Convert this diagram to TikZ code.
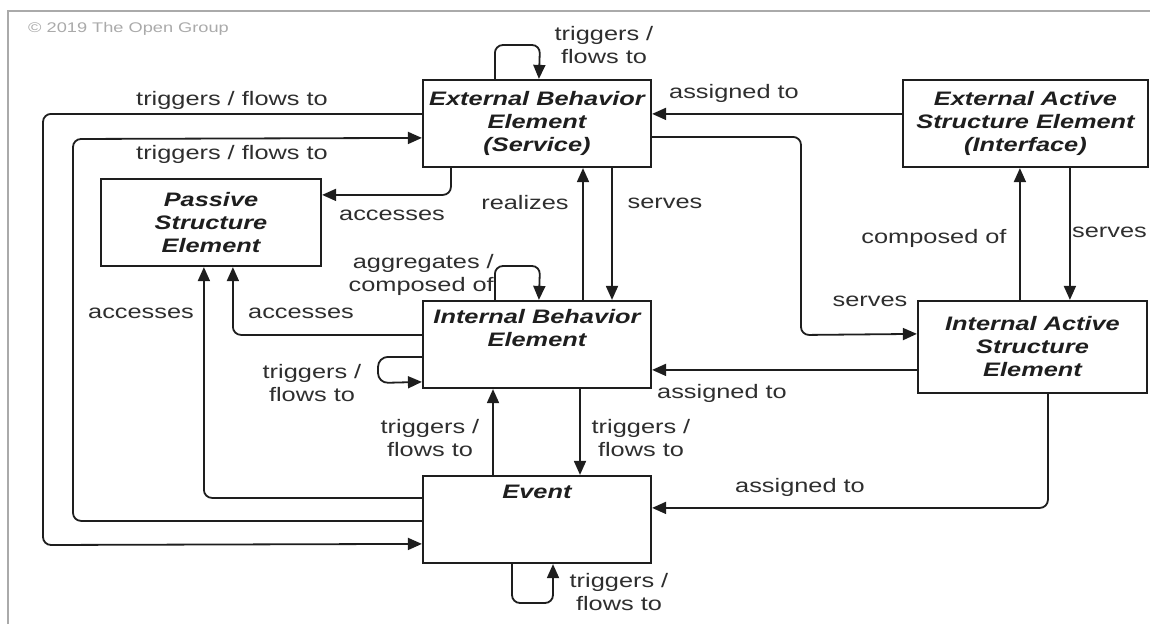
\documentclass[tikz,border=0pt]{standalone}
\usepackage{fontspec}
\setmainfont{Liberation Sans}[FakeStretch=1.3]
\usetikzlibrary{arrows.meta}
\definecolor{ink}{HTML}{1E1E1E}
\definecolor{lbl}{HTML}{2E2E2E}
\definecolor{frame}{HTML}{AAAAAA}
\tikzset{
  box/.style={draw=ink, line width=2.2pt, rectangle, inner sep=0pt, align=center,
    font=\fontsize{19.5}{23}\selectfont\bfseries\itshape, text=ink},
  conn/.style={draw=ink, line width=1.8pt, rounded corners=8pt,
    -{Triangle[length=14pt,width=12pt]}},
  lab/.style={font=\fontsize{19.5}{23}\selectfont, text=lbl, align=center, inner sep=0pt}
}
\begin{document}
\begin{tikzpicture}[x=1pt,y=-1pt]
\useasboundingbox (0,0) rectangle (1150,624);
% frame
\draw[frame, line width=1.5pt] (8,624) -- (8,11) -- (1150,11);
\node[anchor=west, inner sep=0pt, text=frame, font=\fontsize{14}{16}\selectfont] (copy) at (28,29) {© 2019 The Open Group};
% boxes
\node[box, minimum width=228pt, minimum height=87pt] (ebe) at (537,123.5) {External Behavior\\Element\\(Service)};
\node[box, minimum width=220pt, minimum height=87pt] (passive) at (211,222.5) {Passive\\Structure\\Element};
\node[box, minimum width=245pt, minimum height=87pt] (ease) at (1025.5,123.5) {External Active\\Structure Element\\(Interface)};
\node[box, minimum width=229pt, minimum height=92pt] (iase) at (1032.5,347) {Internal Active\\Structure\\Element};
\node[box, minimum width=228pt, minimum height=87pt] (ibe) at (537,344.5) {Internal Behavior\\Element\\[3pt]\strut};
\node[box, minimum width=228pt, minimum height=87pt] (event) at (537,519.5) {Event\\\strut\\[2pt]\strut};
% connectors
% 1 EBE self loop
\draw[conn] ([xshift=73pt]ebe.north west) |- (540,45) -- ([xshift=117pt]ebe.north west);
% 2 EBE -> Event (outer)
\draw[conn] ([yshift=-35pt]ebe.north west) -| (43,545) -- ([yshift=-69pt]event.north west);
% 3 Event -> EBE
\draw[conn] ([yshift=-46pt]event.north west) -| (73,139) -- ([yshift=-59pt]ebe.north west);
% 4 EBE -> Passive
\draw[conn] ([xshift=29pt]ebe.south west) |- ([yshift=-17pt]passive.north east);
% 5 Event -> Passive
\draw[conn] ([yshift=-23pt]event.north west) -| ([xshift=104pt]passive.south west);
% 6 IBE -> Passive
\draw[conn] ([yshift=-35pt]ibe.north west) -| ([xshift=133pt]passive.south west);
% 7 IBE left loop
\draw[conn, rounded corners=10pt] ([yshift=-57pt]ibe.north west) -| (378,383) -- ([yshift=-82pt]ibe.north west);
% 8 IBE top loop
\draw[conn] ([xshift=73pt]ibe.north west) |- (540,266) -- ([xshift=117pt]ibe.north west);
% 9 realizes
\draw[conn] ([xshift=46pt]ibe.north) -- ([xshift=46pt]ebe.south);
% 10 serves
\draw[conn] ([xshift=75pt]ebe.south) -- ([xshift=75pt]ibe.north);
% 11 EASE -> EBE
\draw[conn] ([yshift=-35pt]ease.north west) -- ([yshift=-35pt]ebe.north east);
% 12 EBE -> IASE
\draw[conn] ([yshift=-58pt]ebe.north east) -| (801,335) -- ([yshift=-34pt]iase.north west);
% 13 IASE -> EASE
\draw[conn] ([xshift=103pt]iase.north west) -- ([xshift=118pt]ease.south west);
% 14 EASE -> IASE
\draw[conn] ([xshift=168pt]ease.south west) -- ([xshift=153pt]iase.north west);
% 15 IASE -> IBE
\draw[conn] ([yshift=-70pt]iase.north west) -- ([yshift=-70pt]ibe.north east);
% 16 IASE -> Event
\draw[conn] ([xshift=131pt]iase.south west) |- ([yshift=-33pt]event.north east);
% 17 Event -> IBE
\draw[conn] ([xshift=-44pt]event.north) -- ([xshift=-44pt]ibe.south);
% 18 IBE -> Event
\draw[conn] ([xshift=43pt]ibe.south) -- ([xshift=43pt]event.north);
% 19 Event self loop
\draw[conn] ([xshift=-25pt]event.south) |- (553,603) -- ([xshift=16pt]event.south);
% labels
\node[lab] (l1) at (604,45.5) {triggers /\\flows to};
\node[lab] (l2) at (232,100) {triggers / flows to};
\node[lab] (l3) at (232,154) {triggers / flows to};
\node[lab] (l4) at (392,215) {accesses};
\node[lab] (l5) at (525,203) {realizes};
\node[lab] (l6) at (665,203) {serves};
\node[lab] (l7) at (734,93) {assigned to};
\node[lab] (l8) at (934,238) {composed of};
\node[lab, anchor=east] (l9) at (1147,232) {serves};
\node[lab] (l10) at (870,301) {serves};
\node[lab, anchor=east, align=right] (l11) at (494,274.5) {aggregates /\\composed of};
\node[lab] (l12) at (141,313) {accesses};
\node[lab] (l13) at (301,313) {accesses};
\node[lab] (l14) at (312,383.5) {triggers /\\flows to};
\node[lab] (l15) at (430,438) {triggers /\\flows to};
\node[lab] (l16) at (641,438) {triggers /\\flows to};
\node[lab] (l17) at (722,393) {assigned to};
\node[lab] (l18) at (800,487) {assigned to};
\node[lab] (l19) at (619,592.5) {triggers /\\flows to};
\end{tikzpicture}
\end{document}
